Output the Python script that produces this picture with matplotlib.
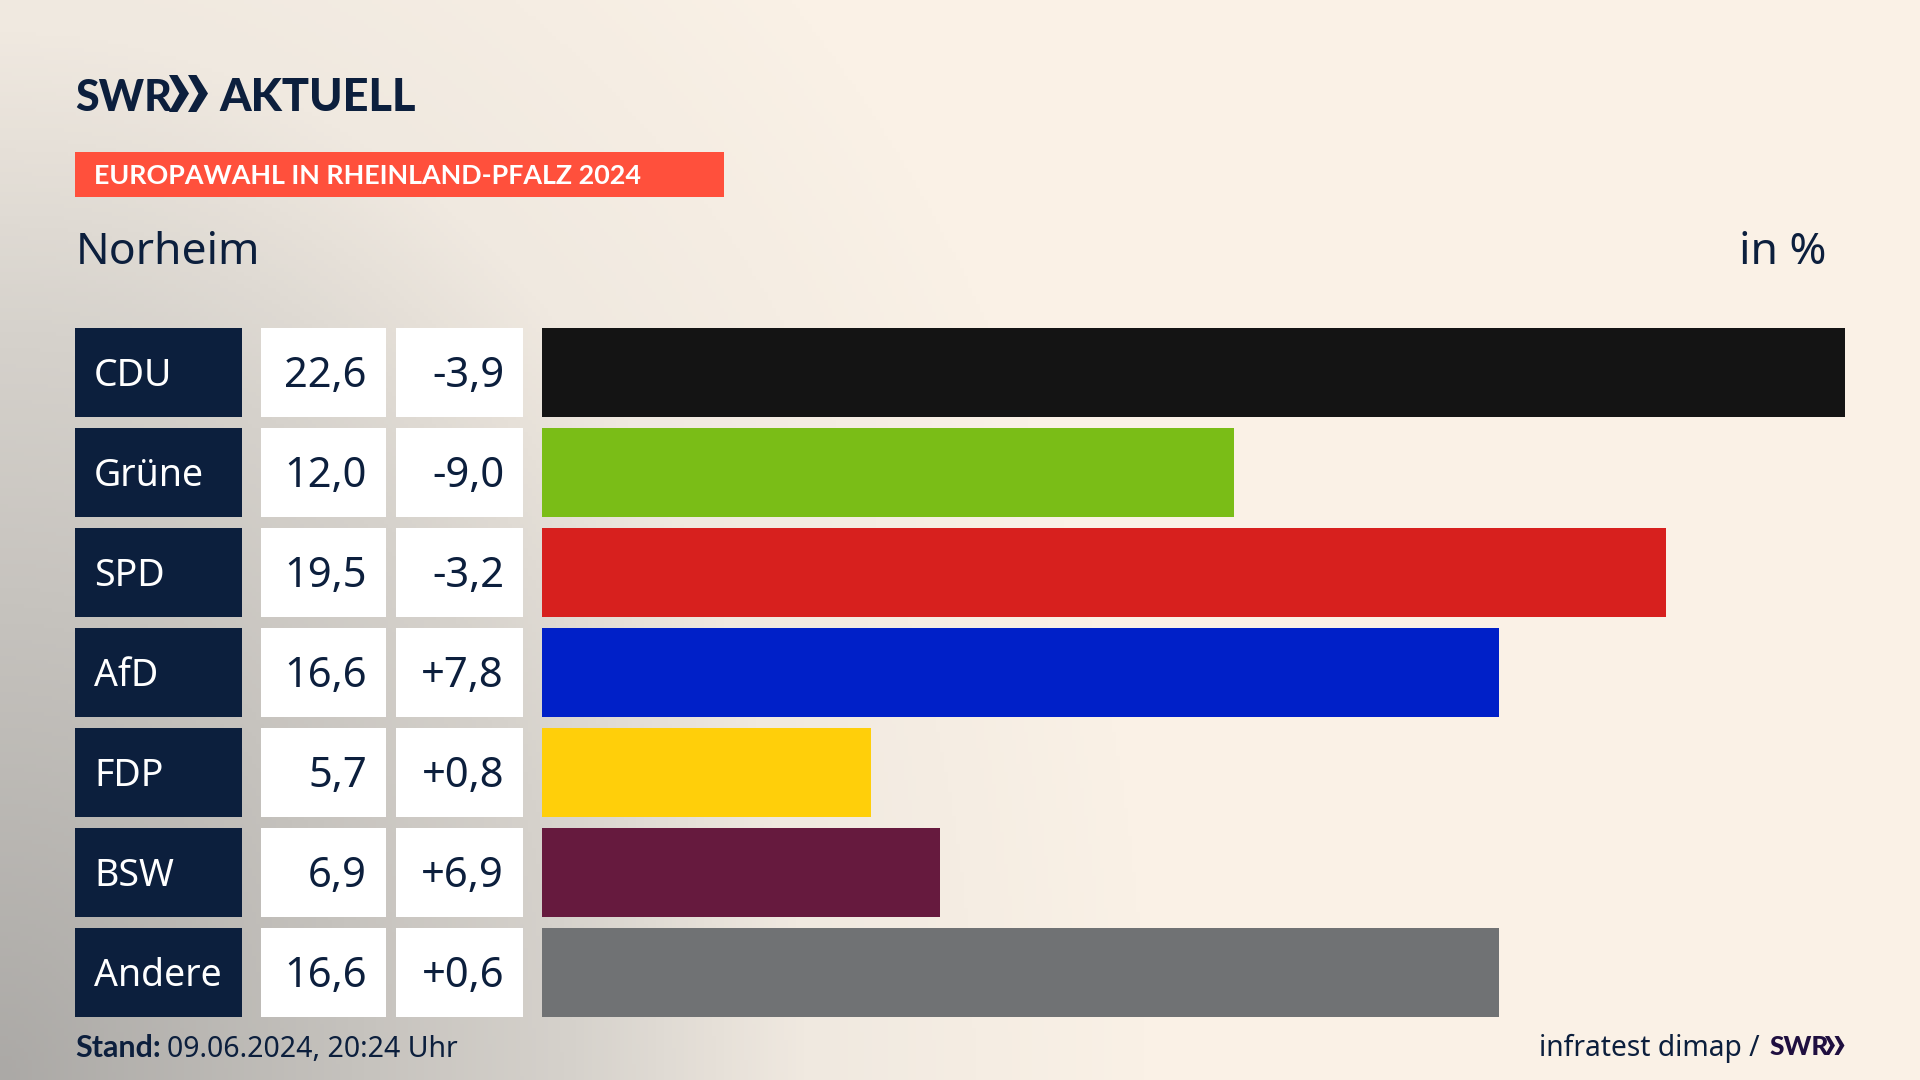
import numpy as np
import matplotlib
matplotlib.use("Agg")
import matplotlib.pyplot as plt
from matplotlib.colors import LinearSegmentedColormap
from matplotlib.patches import Polygon, Rectangle

# Data
parties = ["CDU", "Grüne", "SPD", "AfD", "FDP", "BSW", "Andere"]
shares = [22.6, 12.0, 19.5, 16.6, 5.7, 6.9, 16.6]
changes = [-3.9, -9.0, -3.2, 7.8, 0.8, 6.9, 0.6]
bar_colors = ["#141414", "#7ABD17", "#D7201E", "#0020C8", "#FFCF0A", "#661A3E", "#707274"]

NAVY = "#0C1F3D"
CREAM = "#FAF1E6"
FONT = "Noto Sans"
HEAVY = "Lato"

plt.rcParams["font.family"] = [FONT, "DejaVu Sans"]

fig = plt.figure(figsize=(19.2, 10.8), dpi=100)

# Background in pixel coordinates, y going down
bg = fig.add_axes([0, 0, 1, 1])
bg.set_xlim(0, 1920)
bg.set_ylim(1080, 0)
bg.axis("off")

xx, yy = np.meshgrid(np.linspace(0, 1920, 480), np.linspace(0, 1080, 270))
dist = np.sqrt((xx / 1150) ** 2 + ((1080 - yy) / 1500) ** 2)
cmap = LinearSegmentedColormap.from_list(
    "bg", [(0, "#ABA9A6"), (0.5, "#D6D2CC"), (0.7, "#F0E9E0"), (1, CREAM)]
)
bg.imshow(np.clip(dist, 0, 1), cmap=cmap, vmin=0, vmax=1, extent=(0, 1920, 1080, 0), aspect="auto")


def chevrons(ax, x, top, bottom, w, color):
    mid = (top + bottom) / 2
    for off in (0, w * 0.95):
        pts = [(x + off, top), (x + off + w * 0.42, top), (x + off + w, mid),
               (x + off + w * 0.42, bottom), (x + off, bottom), (x + off + w * 0.52, mid)]
        ax.add_patch(Polygon(pts, closed=True, color=color, lw=0))


# Logo
bg.text(75, 111, "SWR", fontsize=31, fontweight="black", family=HEAVY, color=NAVY, va="baseline")
chevrons(bg, 169, 75, 112, 20, NAVY)
bg.text(219, 111, "AKTUELL", fontsize=32.5, fontweight="black", family=HEAVY, color=NAVY, va="baseline")

# Banner
bg.add_patch(Rectangle((75, 152), 649, 45, color="#FF503C", lw=0))
bg.text(94, 184, "EUROPAWAHL IN RHEINLAND-PFALZ 2024", fontsize=19.4, fontweight="bold",
        family=HEAVY, color="white", va="baseline")

# Headings
bg.text(76, 264, "Norheim", fontsize=32, color=NAVY, va="baseline")
bg.text(1826, 264, "in %", fontsize=32, color=NAVY, va="baseline", ha="right")

# Table rows
for i, (party, share, change) in enumerate(zip(parties, shares, changes)):
    top = 328 + 100 * i
    bg.add_patch(Rectangle((75, top), 167, 89, color=NAVY, lw=0))
    bg.add_patch(Rectangle((261, top), 125, 89, color="white", lw=0))
    bg.add_patch(Rectangle((396, top), 127, 89, color="white", lw=0))
    bg.text(94, top + 58, party, fontsize=27, color="white", va="baseline")
    bg.text(367, top + 59, f"{share:.1f}".replace(".", ","), fontsize=30, color=NAVY,
            va="baseline", ha="right")
    bg.text(504, top + 59, f"{change:+.1f}".replace(".", ","), fontsize=30, color=NAVY,
            va="baseline", ha="right")

# Footer
bg.text(75, 1057, "Stand:", fontsize=22, fontweight="bold", family=HEAVY, color=NAVY, va="baseline")
bg.text(167, 1057, "09.06.2024, 20:24 Uhr", fontsize=20.5, color=NAVY, va="baseline")
bg.text(1760, 1056, "infratest dimap /", fontsize=20.3, color=NAVY, va="baseline", ha="right")
bg.text(1769, 1055, "SWR", fontsize=19, fontweight="black", family=HEAVY, color="#1F0F40", va="baseline")
chevrons(bg, 1825, 1036, 1055, 10, "#1F0F40")

# Bars
ax = fig.add_axes([542 / 1920, 1 - 1022.5 / 1080, (1845 - 542) / 1920, 700 / 1080])
ax.barh(range(len(parties)), shares, height=0.89, color=bar_colors)
ax.set_xlim(0, max(shares))
ax.set_ylim(6.5, -0.5)
ax.axis("off")

fig.savefig("out.png", dpi=100)
